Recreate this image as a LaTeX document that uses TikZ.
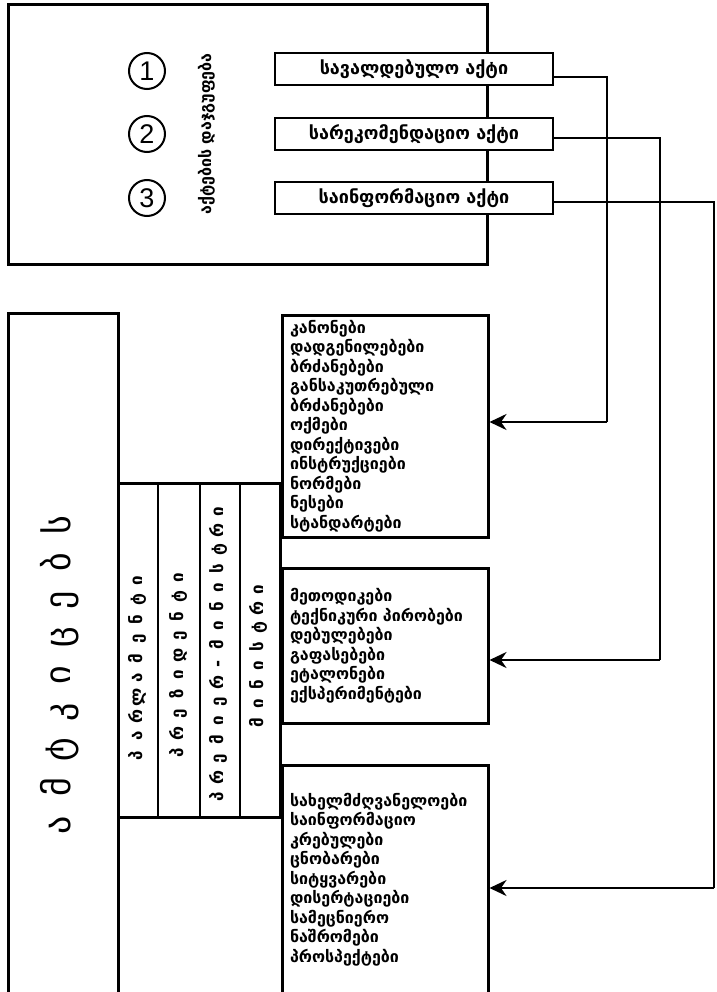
\documentclass[tikz,border=0pt]{standalone}
\usepackage{fontspec}
\setmainfont{DejaVu Sans}
\newfontfamily\digitfont{Liberation Sans}
\usetikzlibrary{arrows.meta,calc}
\makeatletter
\newcommand\spreadtext[2]{\@tfor\sp@ch:=#2\do{\makebox[#1]{\sp@ch}}}
\makeatother
\begin{document}
\begin{tikzpicture}[x=1pt,y=-1pt,
  frame/.style={draw, line width=3pt, inner sep=0pt},
  actbox/.style={draw, line width=2pt, fill=white, minimum width=278pt, minimum height=32pt, inner sep=0pt, font=\bfseries\fontsize{18}{20}\selectfont},
  listbox/.style={draw, line width=3pt, minimum width=206pt, text width=190pt, align=left, inner xsep=8pt, font=\bfseries\fontsize{16}{19.5}\selectfont},
  numcirc/.style={draw, circle, line width=2pt, minimum size=36pt, inner sep=0pt, font=\digitfont\fontsize{27}{27}\selectfont},
  conn/.style={line width=2.5pt},
  arr/.style={line width=2.5pt, -{Stealth[length=17pt,width=16pt]}},
  colbox/.style={draw, line width=1.2pt, minimum height=333pt, inner sep=0pt},
  coltext/.style={rotate=90, font=\bfseries\fontsize{17}{17}\selectfont, inner sep=0pt},
]
\useasboundingbox (0,0) rectangle (716,992);
\fill[white] (0,0) rectangle (716,992);

% top frame
\node[frame, minimum width=479pt, minimum height=259pt] (top) at (247.5,134.5) {};
\node[numcirc] (c1) at (147,71) {1};
\node[numcirc] (c2) at (147,134) {2};
\node[numcirc] (c3) at (147,198) {3};
\node[rotate=90, inner sep=0pt, font=\bfseries\fontsize{16}{16}\selectfont] (grp) at (207,134) {აქტების დაჯგუფება};

\node[actbox] (b1) at (414,69) {სავალდებულო აქტი};
\node[actbox] (b2) at (414,134) {სარეკომენდაციო აქტი};
\node[actbox] (b3) at (414,198) {საინფორმაციო აქტი};

% list boxes
\node[listbox, minimum height=222pt] (bA) at (385,426) {კანონები\\დადგენილებები\\ბრძანებები\\განსაკუთრებული\\ბრძანებები\\ოქმები\\დირექტივები\\ინსტრუქციები\\ნორმები\\ნესები\\სტანდარტები};
\node[listbox, minimum height=155pt] (bB) at (385,645.5) {მეთოდიკები\\ტექნიკური პირობები\\დებულებები\\გაფასებები\\ეტალონები\\ექსპერიმენტები};
\node[listbox, minimum height=229pt] (bC) at (385,879.5) {სახელმძღვანელოები\\საინფორმაციო\\კრებულები\\ცნობარები\\სიტყვარები\\დისერტაციები\\სამეცნიერო\\ნაშრომები\\პროსპექტები};

% left column
\node[frame, minimum width=110pt, minimum height=681pt] (L) at (63,653.5) {};
\node[rotate=90, inner sep=0pt, font=\fontsize{36}{36}\selectfont] (Lt) at (60,675) {\spreadtext{37.5pt}{ამტკიცებს}};

% strip columns
\node[colbox, minimum width=40pt] (s1) at (138,650.5) {};
\node[colbox, minimum width=42pt] (s2) at (179,650.5) {};
\node[colbox, minimum width=40pt] (s3) at (220,650.5) {};
\node[colbox, minimum width=40pt] (s4) at (260,650.5) {};
\node[coltext] (t1) at (137,668) {\spreadtext{19.5pt}{პარლამენტი}};
\node[coltext] (t2) at (178,665) {\spreadtext{19.5pt}{პრეზიდენტი}};
\node[coltext] (t3) at (218,654) {\spreadtext{19pt}{პრემიერ-მინისტრი}};
\node[coltext] (t4) at (258,656) {\spreadtext{19pt}{მინისტრი}};

% thick outline of strip and joining line
\draw[line width=3pt] (L.east |- s1.north) -- (bA.west |- s1.north);
\draw[line width=3pt] (L.east |- s1.south) -- (bA.west |- s1.south);
\draw[line width=3pt] (bA.south west) -- (bB.north west);
\draw[line width=3pt] (bB.south west) -- (bC.north west);

% connectors
\coordinate (k1) at (607,422);
\coordinate (k2) at (660,660);
\coordinate (k3) at (714,888);
\draw[conn] ([yshift=-8pt]b1.east) -| (k1);
\draw[arr] (k1) -- (bA.east |- k1);
\draw[conn] ([yshift=-4pt]b2.east) -| (k2);
\draw[arr] (k2) -- (bB.east |- k2);
\draw[conn] ([yshift=-4pt]b3.east) -| (k3);
\draw[arr] (k3) -- (bC.east |- k3);
\end{tikzpicture}
\end{document}
